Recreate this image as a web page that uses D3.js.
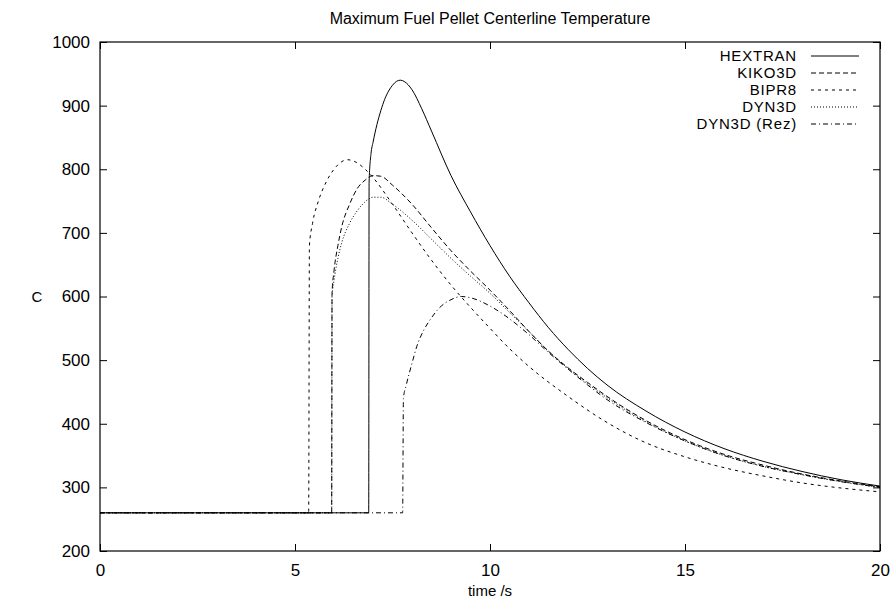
<!DOCTYPE html>
<html>
<head>
<meta charset="utf-8">
<script src="https://cdn.jsdelivr.net/npm/d3@7"></script>
<style>
  body { margin: 0; background: #fff; }
  svg { display: block; font-family: "Liberation Sans", Arial, sans-serif; }
</style>
</head>
<body>
<script>
// Datos (tiempo en s, temperatura en C)
var hextranT = [0, 6.89, 6.9, 6.95, 7.0, 7.1, 7.2, 7.3, 7.4, 7.5, 7.6, 7.7, 7.8, 8.0, 8.25, 8.5, 9.0, 9.5, 10, 10.5, 11, 11.5, 12, 12.5, 13, 14, 15, 16, 17, 18, 19, 20];
var hextranV = [260, 260, 780, 825, 842, 870, 892, 910, 923, 932, 938, 940, 938, 925, 895, 860, 790, 733, 680, 632, 590, 551, 517, 487, 461, 420, 387, 361, 341, 325, 312, 302];

var kikoT = [0, 5.94, 5.95, 6.0, 6.1, 6.2, 6.4, 6.6, 6.8, 7.0, 7.2, 7.5, 8.0, 8.5, 9.0, 9.5, 10, 10.5, 11, 11.5, 12, 12.5, 13, 14, 15, 16, 17, 18, 19, 20];
var kikoV = [260, 260, 605, 640, 680, 710, 745, 770, 783, 790, 789, 775, 745, 708, 672, 640, 610, 578, 545, 514, 488, 465, 443, 405, 375, 352, 335, 321, 310, 301];

var bipr8T = [0, 5.35, 5.37, 5.45, 5.6, 5.8, 6.0, 6.2, 6.35, 6.5, 6.8, 7.0, 7.5, 8.0, 8.5, 9.0, 9.5, 10, 10.5, 11, 12, 13, 14, 15, 16, 17, 18, 19, 20];
var bipr8V = [260, 260, 680, 715, 750, 780, 800, 812, 815, 813, 800, 787, 745, 700, 657, 618, 583, 550, 518, 490, 443, 402, 370, 348, 331, 318, 307, 299, 293];

var dyn3dT = [0, 5.94, 5.95, 6.0, 6.1, 6.2, 6.4, 6.6, 6.8, 7.0, 7.2, 7.5, 8.0, 8.5, 9.0, 9.5, 10, 10.5, 11, 11.5, 12, 12.5, 13, 14, 15, 16, 17, 18, 19, 20];
var dyn3dV = [260, 260, 600, 625, 660, 685, 715, 735, 749, 756, 756, 745, 720, 690, 660, 632, 605, 575, 545, 514, 487, 463, 441, 403, 373, 350, 333, 320, 309, 300];

var rezT = [0, 7.76, 7.78, 7.85, 8.0, 8.12, 8.3, 8.46, 8.7, 9.0, 9.27, 9.5, 10, 10.5, 11, 11.5, 12, 12.5, 13, 14, 15, 16, 17, 18, 19, 20];
var rezV = [260, 260, 440, 460, 495, 521, 547, 563, 582, 595, 600, 598, 585, 565, 540, 512, 486, 461, 438, 402, 373, 350, 333, 320, 309, 300];

var nombres = ["HEXTRAN", "KIKO3D", "BIPR8", "DYN3D", "DYN3D (Rez)"];
var xTicks = [0, 5, 10, 15, 20];
var yTicks = [200, 300, 400, 500, 600, 700, 800, 900, 1000];

var series = [
    { nombre: nombres[0], t: hextranT, v: hextranV, dash: null },
    { nombre: nombres[1], t: kikoT, v: kikoV, dash: "5,3" },
    { nombre: nombres[2], t: bipr8T, v: bipr8V, dash: "3,4" },
    { nombre: nombres[3], t: dyn3dT, v: dyn3dV, dash: "1,2" },
    { nombre: nombres[4], t: rezT, v: rezV, dash: "5,3,1,3" }
];

var ancho = 896, alto = 605;
var izq = 100, der = 880, arriba = 42, abajo = 551;

var svg = d3.select("body").append("svg")
            .attr("width", ancho)
            .attr("height", alto);

var x = d3.scaleLinear().domain([0, 20]).range([izq, der]);
var y = d3.scaleLinear().domain([200, 1000]).range([abajo, arriba]);

// Curvas
var linea = d3.line()
    .x(function(d) { return x(d[0]); })
    .y(function(d) { return y(d[1]); })
    .curve(d3.curveMonotoneX);

series.forEach(function(s) {
    var puntos = s.t.map(function(t, i) { return [t, s.v[i]]; });
    svg.append("path")
       .attr("d", linea(puntos))
       .attr("fill", "none")
       .attr("stroke", "black")
       .attr("stroke-width", 1)
       .attr("stroke-dasharray", s.dash);
});

// Ejes con marcas hacia dentro (también reflejadas arriba y a la derecha)
var tam = 7;
svg.append("g").attr("transform", "translate(0," + abajo + ")")
   .call(d3.axisBottom(x).tickValues(xTicks).tickFormat(d3.format("d")).tickSizeInner(-tam).tickSizeOuter(0).tickPadding(13));
svg.append("g").attr("transform", "translate(0," + arriba + ")")
   .call(d3.axisTop(x).tickValues(xTicks).tickSizeInner(-tam).tickSizeOuter(0).tickFormat(""));
svg.append("g").attr("transform", "translate(" + izq + ",0)")
   .call(d3.axisLeft(y).tickValues(yTicks).tickFormat(d3.format("d")).tickSizeInner(-tam).tickSizeOuter(0).tickPadding(10));
svg.append("g").attr("transform", "translate(" + der + ",0)")
   .call(d3.axisRight(y).tickValues(yTicks).tickSizeInner(-tam).tickSizeOuter(0).tickFormat(""));

svg.selectAll(".domain").remove();
svg.selectAll(".tick line").attr("stroke", "black");
svg.selectAll(".tick text")
   .attr("font-family", "Liberation Sans, Arial, sans-serif")
   .attr("font-size", "17px")
   .attr("fill", "black");

// Marco
svg.append("rect")
   .attr("x", izq).attr("y", arriba)
   .attr("width", der - izq).attr("height", abajo - arriba)
   .attr("fill", "none").attr("stroke", "black").attr("stroke-width", 1.2);

// Título y etiquetas
svg.append("text")
   .attr("x", (izq + der) / 2).attr("y", 24)
   .attr("text-anchor", "middle").attr("font-size", "16px")
   .text("Maximum Fuel Pellet Centerline Temperature");

svg.append("text")
   .attr("x", (izq + der) / 2).attr("y", 596)
   .attr("text-anchor", "middle").attr("font-size", "15px")
   .text("time /s");

svg.append("text")
   .attr("x", 37).attr("y", 302)
   .attr("text-anchor", "middle").attr("font-size", "15px")
   .text("C");

// Leyenda
var leyenda = svg.append("g");
series.forEach(function(s, i) {
    var yy = 56 + i * 17;
    leyenda.append("text")
       .attr("x", 797).attr("y", yy).attr("dy", "0.35em")
       .attr("text-anchor", "end").attr("font-size", "15px")
       .attr("letter-spacing", "0.8px")
       .text(s.nombre);
    leyenda.append("line")
       .attr("x1", 811).attr("x2", 859)
       .attr("y1", yy).attr("y2", yy)
       .attr("stroke", "black").attr("stroke-width", 1)
       .attr("stroke-dasharray", s.dash);
});
</script>
</body>
</html>
